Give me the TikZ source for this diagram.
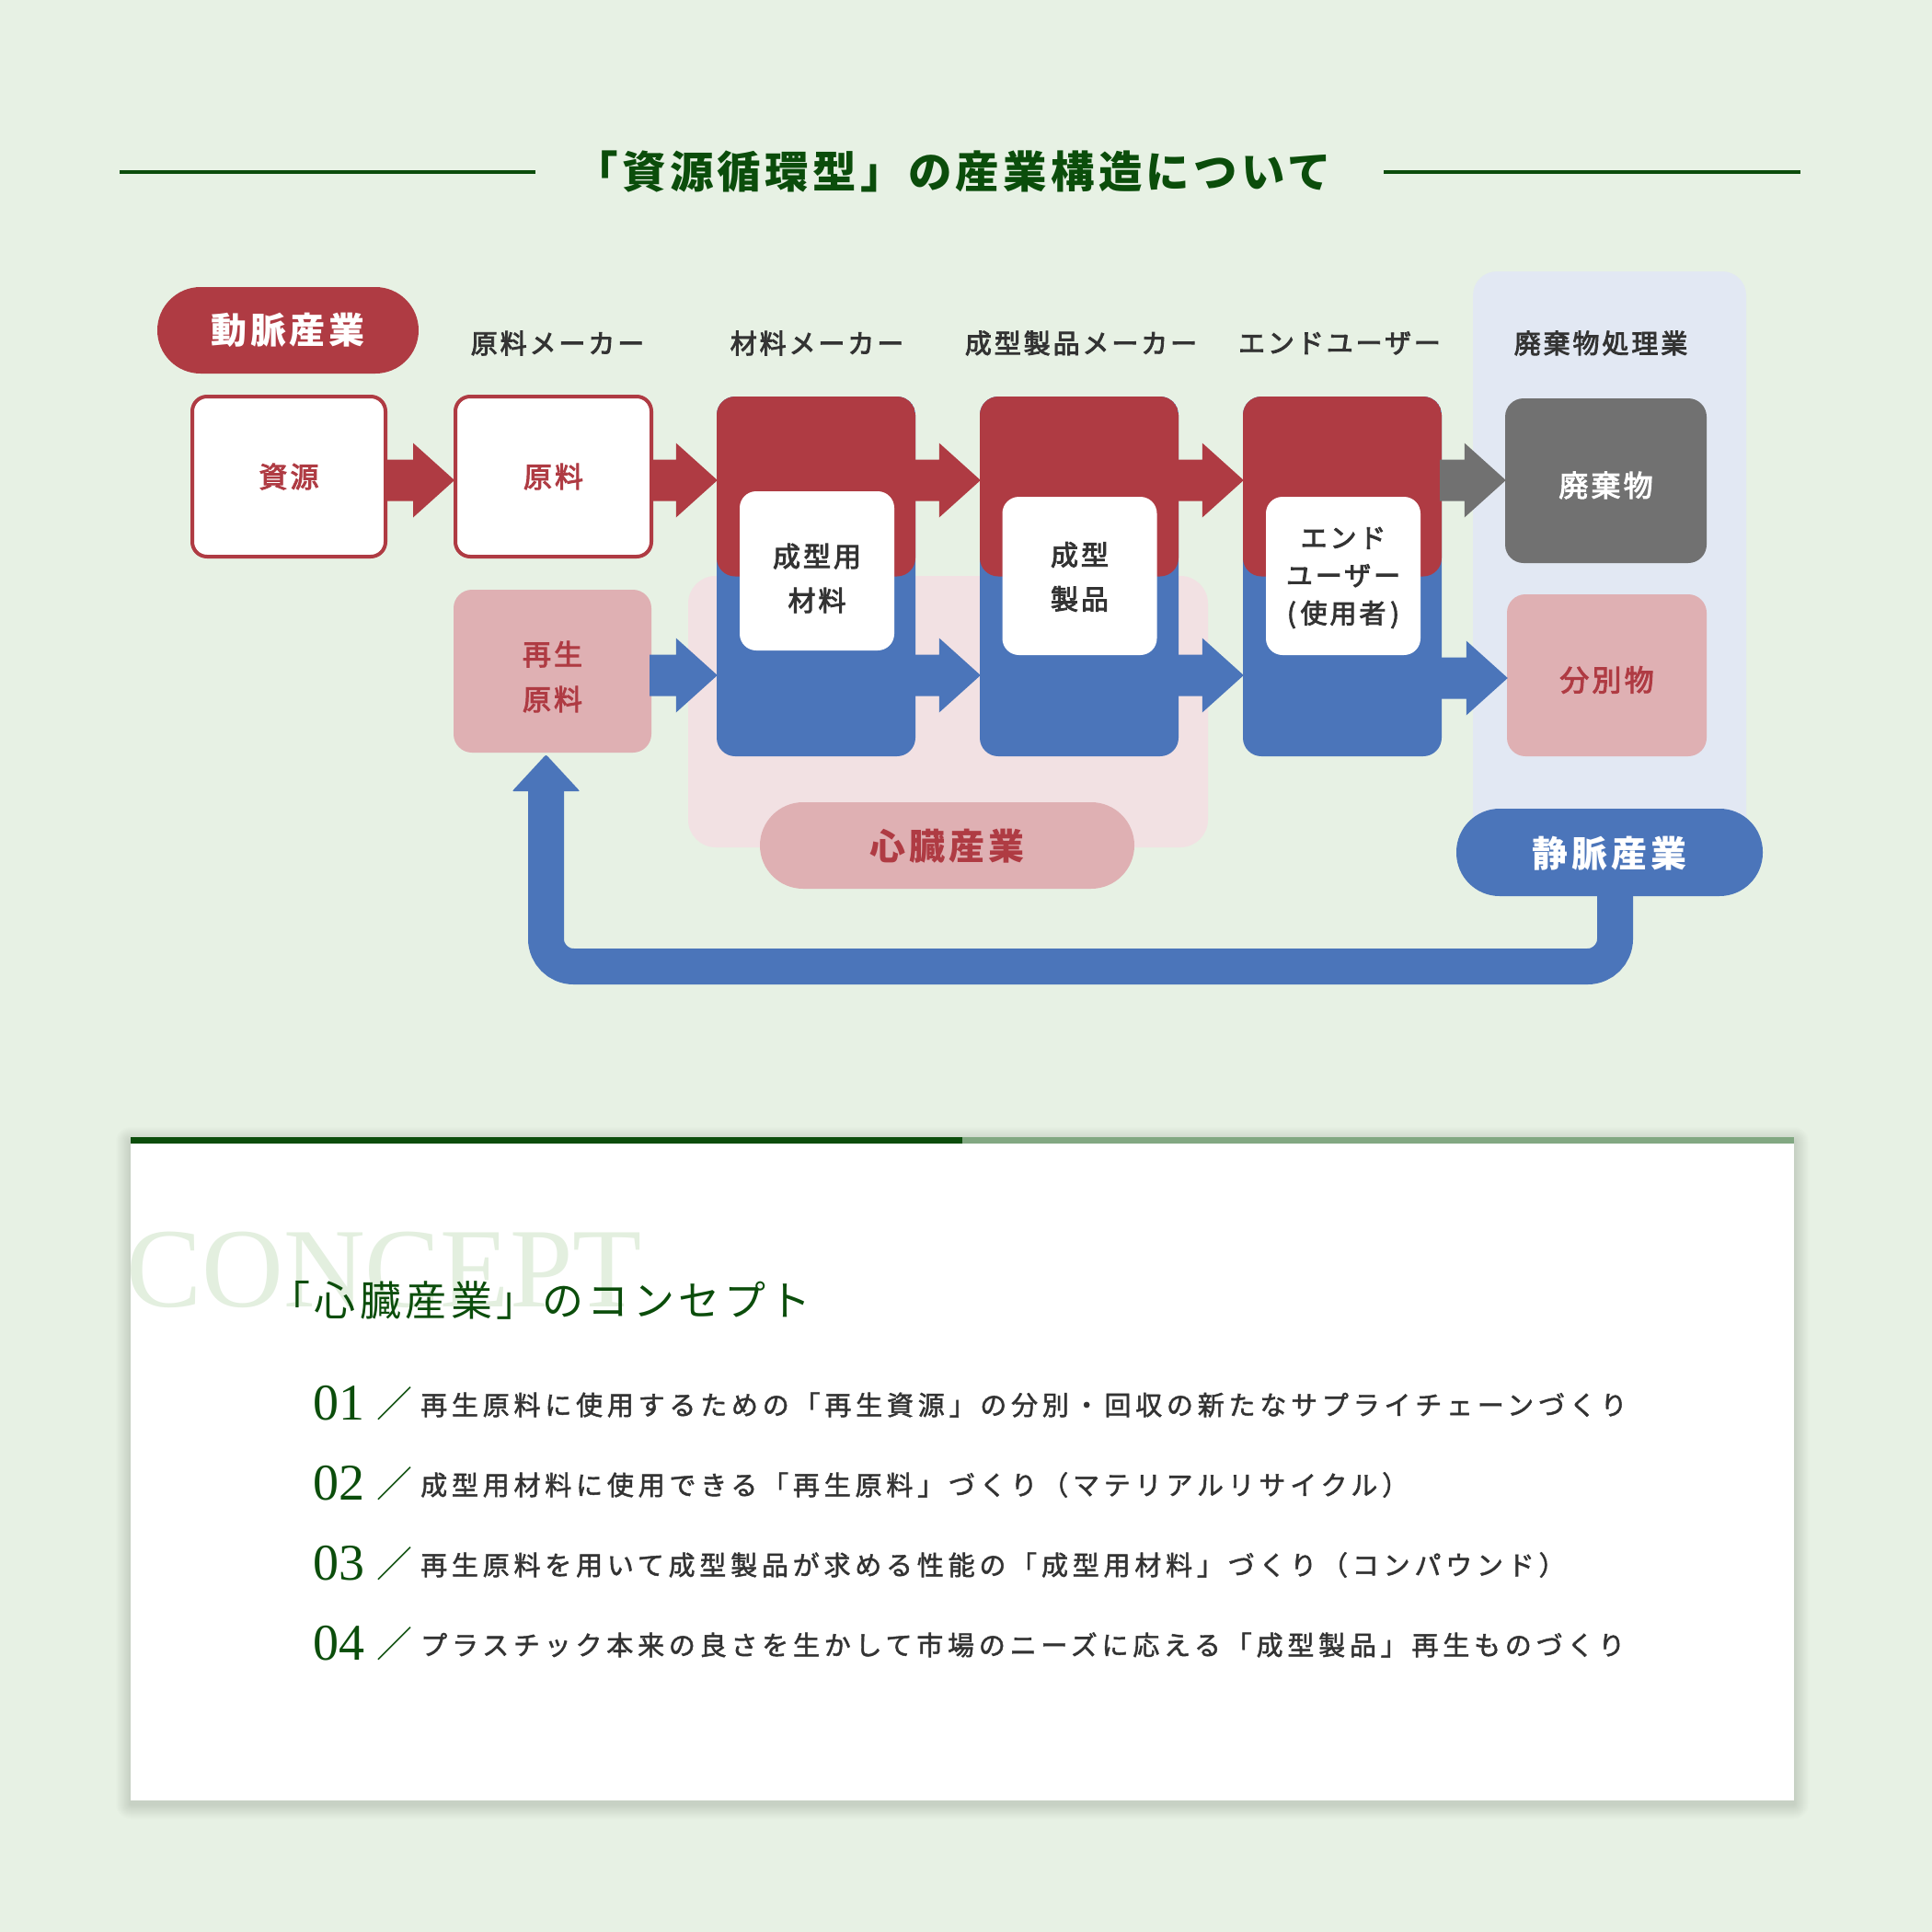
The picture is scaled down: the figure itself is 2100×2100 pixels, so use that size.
\documentclass[tikz,border=0pt]{standalone}
\usepackage{fontspec}
\setmainfont{Noto Sans CJK JP}
\newfontfamily\jpA[LetterSpace=9]{Noto Sans CJK JP}
\newfontfamily\jpB[LetterSpace=10]{Noto Sans CJK JP}
\newfontfamily\jpM[LetterSpace=10,FakeBold=3]{Noto Sans CJK JP}
\newfontfamily\jpC[LetterSpace=16.5,FakeBold=1.6]{Noto Sans CJK JP}
\newfontfamily\lser{Liberation Serif}
\usetikzlibrary{calc}
\definecolor{bgc}{HTML}{E7F1E4}
\definecolor{redc}{HTML}{AF3B43}
\definecolor{bluec}{HTML}{4B75BA}
\definecolor{pinkc}{HTML}{DFB0B3}
\definecolor{pinkbg}{HTML}{F2E1E3}
\definecolor{bluebg}{HTML}{E2E8F3}
\definecolor{grayc}{HTML}{717171}
\definecolor{txt}{HTML}{333333}
\definecolor{grn}{HTML}{0B4D0B}
\definecolor{grnl}{HTML}{82A882}
\definecolor{conceptc}{HTML}{E3EFDF}
\definecolor{shadowc}{HTML}{6E8A6A}
\newcommand\blockarr[3]{%
  \fill[#1] ($(#2)+(-2,-22.5)$) -- ($(#3)+(-44,-22.5)$) -- ($(#3)+(-44,-40.5)$)
    -- ($(#3)+(1,0)$) -- ($(#3)+(-44,40.5)$) -- ($(#3)+(-44,22.5)$)
    -- ($(#2)+(-2,22.5)$) -- cycle;}
\begin{document}
\begin{tikzpicture}[x=1pt,y=-1pt,
  head/.style={inner sep=0pt, text=txt, font=\jpM\fontsize{29}{35}\selectfont},
  pill/.style={inner sep=0pt, minimum height=94pt, rounded corners=47pt},
  pillfont/.style={font=\jpB\bfseries\fontsize{39}{45}\selectfont},
  wbox/.style={inner sep=0pt, fill=white, draw=redc, line width=4pt, rounded corners=16pt,
    minimum width=210pt, minimum height=174pt, text=redc, font=\jpM\fontsize{31}{48}\selectfont},
  colbox/.style={inner sep=0pt, minimum width=216pt, minimum height=391pt, fill=bluec, rounded corners=20pt,
    path picture={\fill[redc] (path picture bounding box.north west) rectangle (path picture bounding box.east);}},
  inbox/.style={inner sep=0pt, fill=white, rounded corners=18pt, minimum width=168pt, minimum height=172pt},
  intext/.style={inner sep=0pt, align=center, text=txt, font=\jpM\fontsize{30}{48}\selectfont},
  sbox/.style={inner sep=0pt, rounded corners=20pt, align=center, font=\jpM\fontsize{31}{49}\selectfont},
  num/.style={inner sep=0pt, anchor=base west, text=grn, font=\lser\fontsize{56}{56}\selectfont},
  slash/.style={inner sep=0pt, text=grn, font=\fontsize{39}{39}\selectfont},
  item/.style={inner sep=0pt, anchor=base west, text=txt, font=\jpC\fontsize{29}{34}\selectfont}
]
\useasboundingbox (0,0) rectangle (2100,2100);
\fill[bgc] (0,0) rectangle (2100,2100);

% title
\node[inner sep=0pt, text=grn, font=\jpA\bfseries\fontsize{47.5}{50}\selectfont] (title) at (1036,187) {「資源循環型」の産業構造について};
\coordinate (tl1) at (130,187); \coordinate (tl2) at (582,187);
\coordinate (tr1) at (1504,187); \coordinate (tr2) at (1957,187);
\draw[grn, line width=4.5pt] (tl1) -- (tl2);
\draw[grn, line width=4.5pt] (tr1) -- (tr2);

% background zones
\fill[pinkbg, rounded corners=30pt] (748,626) rectangle (1313,921);
\fill[bluebg, rounded corners=26pt] (1601,295) rectangle (1898,940);

% loop arrow
\node[pill, fill=bluec, minimum width=333pt, minimum height=95pt] (jomyaku) at (1749.5,926.5) {};
\coordinate (stemx) at (1755.5,0);
\coordinate (bary) at (0,1050.5);
\coordinate (leftx) at (593.5,0);
\coordinate (headb) at (0,858);
\draw[bluec, line width=39pt, rounded corners=30pt] ([yshift=2pt]jomyaku.south -| stemx) -- (stemx |- bary) -- (leftx |- bary) -- (leftx |- headb);

% headings
\node[pill, fill=redc, minimum width=284pt] (domyaku) at (313,359) {};
\node[pillfont, text=white, inner sep=0pt] at (domyaku.center) {動脈産業};
\node[head] (h1) at (606,373) {原料メーカー};
\node[head] (h2) at (888,373) {材料メーカー};
\node[head] (h3) at (1175,373) {成型製品メーカー};
\node[head] (h4) at (1456,373) {エンドユーザー};
\node[head] (h5) at (1740,373) {廃棄物処理業};

% boxes
\node[wbox] (shigen) at (314,518) {資源};
\node[wbox, minimum width=213pt] (genryo) at (601.5,518) {原料};
\node[sbox, fill=pinkc, text=redc, minimum width=215pt, minimum height=177pt] (saisei) at (600.5,729.5) {};
\node[sbox, text=redc] at ([yshift=-6pt]saisei.center) {再生\\原料};

\node[colbox] (c1) at (887,626.5) {};
\node[colbox] (c2) at (1173,626.5) {};
\node[colbox] (c3) at (1459,626.5) {};
\node[inbox, minimum height=173pt] (w1) at (888,620.5) {};
\node[inbox] (w2) at (1173.5,626) {};
\node[inbox] (w3) at (1460,626) {};
\node[intext] at ([yshift=-8pt]w1.center) {成型用\\材料};
\node[intext] at ([yshift=-1pt]w2.center) {成型\\製品};
\node[intext, font=\jpM\fontsize{29}{41}\selectfont] at ([yshift=-2pt]w3.center) {エンド\\ユーザー\\(\,使用者\,)};

\node[sbox, fill=grayc, text=white, minimum width=219pt, minimum height=179pt] (haiki) at (1745.5,522.5) {};
\node[sbox, text=white, font=\jpM\fontsize{32}{40}\selectfont] at ([yshift=-5pt]haiki.center) {廃棄物};
\node[sbox, fill=pinkc, minimum width=217pt, minimum height=176pt] (bunbetsu) at (1746.5,734) {};
\node[sbox, text=redc, font=\jpM\fontsize{32}{40}\selectfont] at ([yshift=-5pt]bunbetsu.center) {分別物};

% arrows
\coordinate (yr) at (0,522);
\coordinate (yb) at (0,734);
\coordinate (yb2) at (0,737);
\blockarr{redc}{shigen.east |- yr}{genryo.west |- yr}
\blockarr{redc}{genryo.east |- yr}{c1.west |- yr}
\blockarr{redc}{c1.east |- yr}{c2.west |- yr}
\blockarr{redc}{c2.east |- yr}{c3.west |- yr}
\blockarr{grayc}{c3.east |- yr}{haiki.west |- yr}
\blockarr{bluec}{saisei.east |- yb}{c1.west |- yb}
\blockarr{bluec}{c1.east |- yb}{c2.west |- yb}
\blockarr{bluec}{c2.east |- yb}{c3.west |- yb}
\blockarr{bluec}{c3.east |- yb2}{bunbetsu.west |- yb2}

% loop arrow head
\coordinate (tip) at ($(saisei.south -| leftx)+(0,2)$);
\fill[bluec, rounded corners=2pt] (tip) -- ($(tip)+(37,40)$) -- ($(tip)+(-37,40)$) -- cycle;

% pills
\node[pill, fill=pinkc, minimum width=407pt] (shinzo) at (1029.5,919) {};
\node[pillfont, text=redc, inner sep=0pt] at ([yshift=-1pt]shinzo.center) {心臓産業};
\node[pillfont, text=white, inner sep=0pt] at ([yshift=-1pt]jomyaku.center) {静脈産業};

% card with soft shadow
\foreach \i in {1,...,16}{
  \fill[shadowc, opacity=0.016, rounded corners=\i pt] (142-\i,1237-\i+4) rectangle (1950+\i,1957+\i+4);
}
\fill[white] (142,1237) rectangle (1950,1957);
\fill[grn] (142,1236) rectangle (1046,1243);
\fill[grnl] (1046,1236) rectangle (1950,1243);
\node[inner sep=0pt, anchor=base west, text=conceptc, font=\lser\fontsize{123}{123}\selectfont] (cw) at (137,1420) {CONCEPT};
\node[inner sep=0pt, anchor=base west, text=grn, font=\jpB\fontsize{45}{50}\selectfont] (ch) at (292,1430) {「心臓産業」のコンセプト};

\node[num] (n1) at (340,1543) {01};
\node[num] (n2) at (340,1630) {02};
\node[num] (n3) at (340,1717) {03};
\node[num] (n4) at (340,1804) {04};
\node[slash] (s1) at (429,1526) {／};
\node[slash] (s2) at (429,1613) {／};
\node[slash] (s3) at (429,1700) {／};
\node[slash] (s4) at (429,1787) {／};
\node[item] (t1) at (457,1538) {再生原料に使用するための「再生資源」の分別・回収の新たなサプライチェーンづくり};
\node[item] (t2) at (457,1625) {成型用材料に使用できる「再生原料」づくり（マテリアルリサイクル）};
\node[item] (t3) at (457,1712) {再生原料を用いて成型製品が求める性能の「成型用材料」づくり（コンパウンド）};
\node[item] (t4) at (457,1799) {プラスチック本来の良さを生かして市場のニーズに応える「成型製品」再生ものづくり};
\end{tikzpicture}
\end{document}
